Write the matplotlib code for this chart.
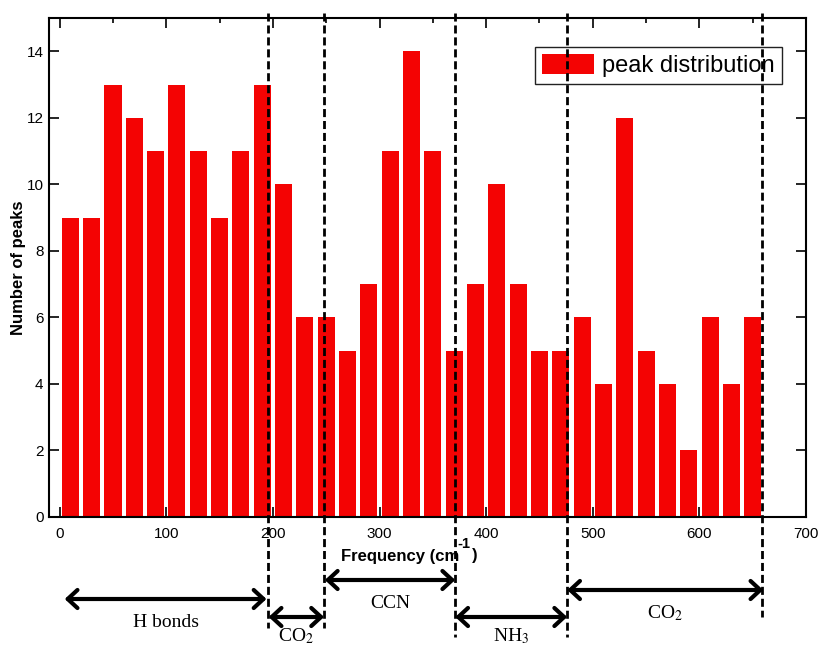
import matplotlib
matplotlib.use("Agg")
import matplotlib.pyplot as plt
import matplotlib.transforms as mtransforms
from matplotlib.ticker import MultipleLocator
import numpy as np

plt.rcParams['font.family'] = ['Liberation Sans', 'DejaVu Sans']
plt.rcParams['mathtext.fontset'] = 'stix'

# data: peak counts in 20 cm^-1 bins (centres 10, 30, ..., 650)
bin_centres = np.arange(10, 660, 20)
peak_counts = [9, 9, 13, 12, 11, 13, 11, 9, 11, 13,
               10, 6, 6, 5, 7, 11, 14, 11, 5, 7,
               10, 7, 5, 5, 6, 4, 12, 5, 4, 2,
               6, 4, 6]

# region boundaries (cm^-1) and labels
boundaries = [195.5, 248, 370.5, 475.5, 659]
regions = [
    # (start, end, label)
    (4.7, 194, 'H bonds'),
    (196, 248, 'CO$_2$'),
    (248.7, 371, 'CCN'),
    (371, 476, 'NH$_3$'),
    (476, 660, 'CO$_2$'),
]

W, H = 820, 647
fig = plt.figure(figsize=(W / 100, H / 100), dpi=100)
ax = fig.add_axes([49 / W, 1 - 517 / H, (806 - 49) / W, (517 - 18) / H])

ax.bar(bin_centres, peak_counts, width=16, color='#f40303',
       label='peak distribution', zorder=2)

ax.set_xlim(-10, 700)
ax.set_ylim(0, 15)
ax.xaxis.set_major_locator(MultipleLocator(100))
ax.xaxis.set_minor_locator(MultipleLocator(50))
ax.yaxis.set_major_locator(MultipleLocator(2))
ax.tick_params(which='both', direction='in', top=True, right=True,
               width=1.2, labelsize=11, zorder=3)
ax.tick_params(which='major', length=7)
ax.tick_params(which='minor', length=3.5)
ax.tick_params(axis='y', pad=4)
ax.tick_params(axis='x', pad=7)
for s in ax.spines.values():
    s.set_linewidth(1.5)
    s.set_zorder(4)

ax.set_ylabel('Number of peaks', fontsize=12, fontweight='bold')
ax.yaxis.set_label_coords(-0.030, 0.5)

# x label with raised exponent, as in the original
fig.text(341 / W, 1 - 561 / H, 'Frequency (cm', fontsize=12,
         fontweight='bold', va='baseline', ha='left')
fig.text(457 / W, 1 - 548 / H, '-1', fontsize=10.5,
         fontweight='bold', va='baseline', ha='left')
fig.text(472 / W, 1 - 560 / H, ')', fontsize=12,
         fontweight='bold', va='baseline', ha='left')

leg = ax.legend(loc='upper right', bbox_to_anchor=(782 / W, 1 - 47 / H),
                bbox_transform=fig.transFigure, borderaxespad=0,
                fontsize=17, fancybox=False, framealpha=1,
                handlelength=2.2, handleheight=0.9, handletextpad=0.35,
                borderpad=0.3)
leg.get_frame().set_edgecolor('#222222')
leg.get_frame().set_linewidth(1.0)

# x in data units, y in figure pixels
trans = mtransforms.blended_transform_factory(ax.transData, fig.transFigure)
def fy(px):
    return 1 - px / H

line_bottoms = [628, 628, 637, 637, 617]
for xb, yb in zip(boundaries, line_bottoms):
    ax.plot([xb, xb], [fy(13), fy(yb)], transform=trans, color='black',
            linestyle=(0, (2.9, 1.4)), linewidth=2, clip_on=False, zorder=6,
            scalex=False, scaley=False)

arrow_y = [599, 617, 580, 617, 590]
label_y = [627, 641, 608, 641, 618]
for (x0, x1, lab), ya, yl in zip(regions, arrow_y, label_y):
    ax.annotate('', xy=(x1, fy(ya)), xytext=(x0, fy(ya)),
                xycoords=trans, textcoords=trans, annotation_clip=False,
                arrowprops=dict(arrowstyle='<->,head_length=0.7,head_width=0.65',
                                lw=3, color='black',
                                shrinkA=0, shrinkB=0))
    ax.text((x0 + x1) / 2, fy(yl), lab, transform=trans, ha='center',
            va='baseline', fontsize=14, family='Liberation Serif',
            clip_on=False)

fig.savefig('out.png', dpi=100)
